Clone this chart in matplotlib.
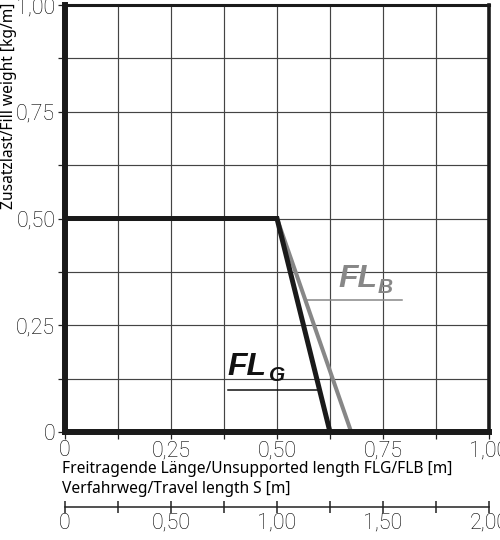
import numpy as np
import matplotlib.pyplot as plt
from matplotlib.ticker import MultipleLocator, FixedLocator

# curves
flg_x = [0.0, 0.5, 0.625]
flg_y = [0.5, 0.5, 0.0]
flb_x = [0.5, 0.675]
flb_y = [0.5, 0.0]

x_ticks = [0, 0.25, 0.5, 0.75, 1.0]
x_ticklabels = ['0', '0,25', '0,50', '0,75', '1,00']
y_ticks = [0, 0.25, 0.5, 0.75, 1.0]
y_ticklabels = ['0', '0,25', '0,50', '0,75', '1,00']
s_ticks = [0, 0.5, 1.0, 1.5, 2.0]
s_ticklabels = ['0', '0,50', '1,00', '1,50', '2,00']

tick_font = dict(family=['Roboto', 'DejaVu Sans'], weight='light', size=15.5)
label_font = dict(family=['Noto Sans', 'DejaVu Sans'], size=11.2)
tag_font = dict(family=['Liberation Sans', 'DejaVu Sans'], style='italic', weight='bold')

fig = plt.figure(figsize=(5, 5.4), dpi=100)
ax = fig.add_axes([0.13, 0.2, 0.848, 0.7907])

ax.plot(flb_x, flb_y, color='#878787', lw=2.9, solid_capstyle='butt', zorder=3)
ax.plot(flg_x, flg_y, color='#1a1a1a', lw=3.6, solid_capstyle='butt',
        solid_joinstyle='miter', zorder=4)

ax.set_xlim(0, 1)
ax.set_ylim(0, 1)
ax.xaxis.set_major_locator(FixedLocator(x_ticks))
ax.yaxis.set_major_locator(FixedLocator(y_ticks))
ax.xaxis.set_minor_locator(MultipleLocator(0.125))
ax.yaxis.set_minor_locator(MultipleLocator(0.125))
ax.set_xticklabels(x_ticklabels, fontdict=tick_font)
ax.set_yticklabels(y_ticklabels, fontdict=tick_font)
ax.tick_params(which='both', direction='out', length=5, width=0.9, color='#222')
ax.tick_params(axis='x', pad=1)
ax.tick_params(axis='y', pad=2)
ax.grid(which='both', color='#444444', lw=0.85)
ax.set_axisbelow(True)

ax.spines['left'].set_linewidth(4.3)
ax.spines['bottom'].set_linewidth(4.3)
ax.spines['top'].set_linewidth(2.2)
ax.spines['right'].set_linewidth(2.6)
for sp in ax.spines.values():
    sp.set_color('#1a1a1a')
    sp.set_zorder(5)

# curve tags
ax.text(0.644, 0.340, 'FL', color='#878787', size=23, ha='left', va='baseline', **tag_font)
ax.text(0.737, 0.325, 'B', color='#878787', size=15, ha='left', va='baseline', **tag_font)
ax.plot([0.571, 0.795], [0.309, 0.309], color='#878787', lw=1.1, zorder=3)

ax.text(0.384, 0.133, 'FL', color='#111', size=23, ha='left', va='baseline', **tag_font)
ax.text(0.482, 0.120, 'G', color='#111', size=15, ha='left', va='baseline', **tag_font)
ax.plot([0.384, 0.600], [0.098, 0.098], color='#111', lw=1.1, zorder=3)

fig.text(0.124, 1 - 469 / 540, 'Freitragende Länge/Unsupported length FLG/FLB [m]',
         ha='left', va='center', **label_font)
fig.text(0.124, 1 - 489 / 540, 'Verfahrweg/Travel length S [m]',
         ha='left', va='center', **label_font)
fig.text(0.018, 0.996, 'Zusatzlast/Fill weight [kg/m]', rotation=90,
         ha='center', va='top', **label_font)

# travel length scale
ax2 = fig.add_axes([0.13, 1 - 507 / 540, 0.848, 0.0001])
ax2.set_facecolor('none')
ax2.set_xlim(0, 2)
ax2.set_yticks([])
for side in ('left', 'right', 'top'):
    ax2.spines[side].set_visible(False)
ax2.spines['bottom'].set_linewidth(1.1)
ax2.spines['bottom'].set_color('#222')
ax2.xaxis.set_major_locator(FixedLocator(s_ticks))
ax2.xaxis.set_minor_locator(MultipleLocator(0.25))
ax2.set_xticklabels(s_ticklabels, fontdict=tick_font)
ax2.tick_params(which='both', direction='inout', length=8, width=1.1, color='#222', pad=0)

fig.savefig('out.png', dpi=100)
